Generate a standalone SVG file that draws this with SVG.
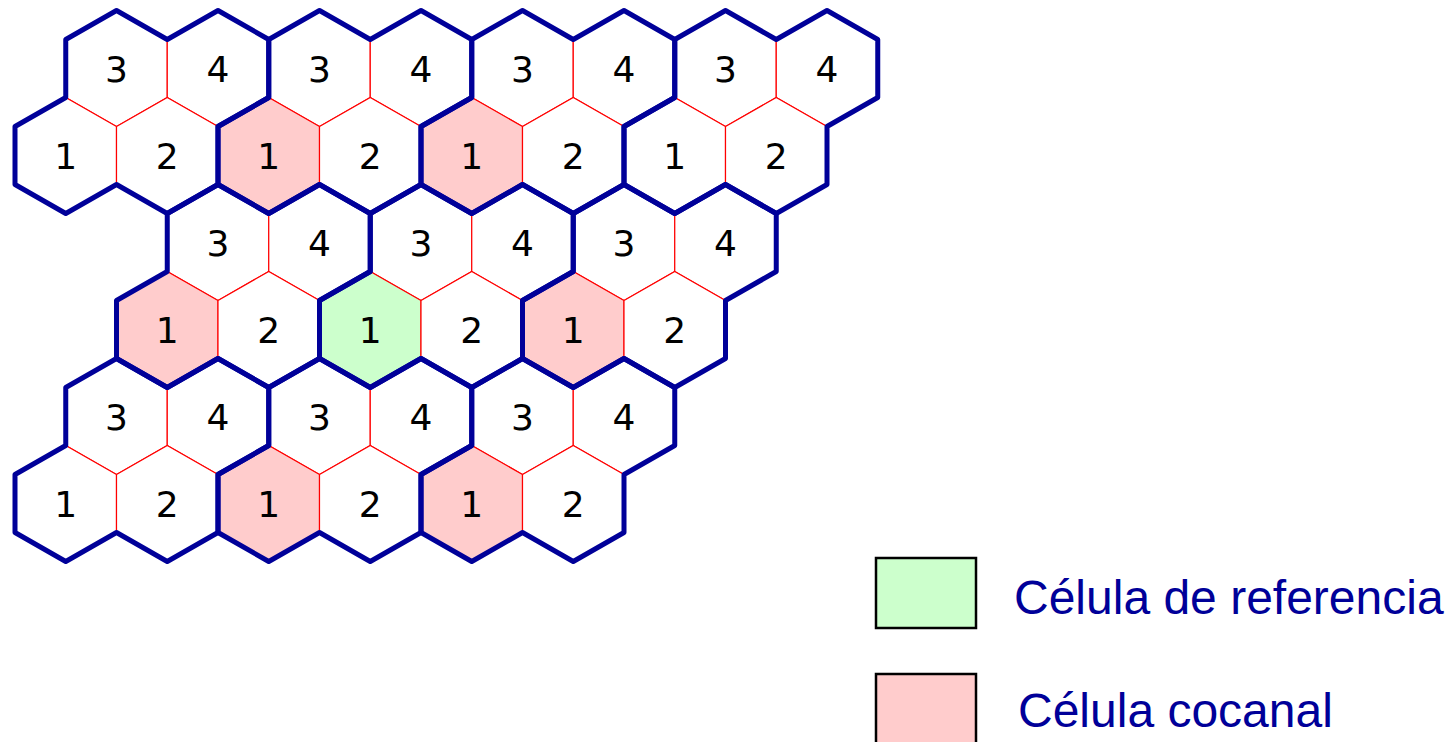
<svg xmlns="http://www.w3.org/2000/svg" xmlns:xlink="http://www.w3.org/1999/xlink" width="1452" height="742" viewBox="0 0 1452 742">
  <style>
    .cell { fill: #FFFFFF; stroke: #FF0000; stroke-width: 1.2; }
    .pink { fill: #FFCCCC; }
    .green { fill: #CCFFCC; }
    .num { font-family: "DejaVu Sans", "Noto Sans", sans-serif; font-size: 36px; fill: #000000; text-anchor: middle; }
    .cluster { fill: none; stroke: #000099; stroke-width: 5; stroke-linejoin: round; stroke-linecap: round; }
    .legbox { stroke: #000000; stroke-width: 2.5; }
    .legtext { font-family: "Liberation Sans", Arial, sans-serif; font-size: 48px; fill: #000099; }
  </style>
  <defs>
    <polygon id="hex" points="0,-58 50.75,-29 50.75,29 0,58 -50.75,29 -50.75,-29"/>
    <polygon id="clus" points="-50.75,-29 0,-58 50.75,-29 101.5,-58 152.25,-29 152.25,29 101.5,58 101.5,116 50.75,145 0,116 -50.75,145 -101.5,116 -101.5,58 -50.75,29"/>
  </defs>

  <!-- Row 1 -->
  <g id="r1c1" transform="translate(116.5,68.5)"><use xlink:href="#hex" class="cell"/><text class="num" y="13">3</text></g>
  <g id="r1c2" transform="translate(218,68.5)"><use xlink:href="#hex" class="cell"/><text class="num" y="13">4</text></g>
  <g id="r1c3" transform="translate(319.5,68.5)"><use xlink:href="#hex" class="cell"/><text class="num" y="13">3</text></g>
  <g id="r1c4" transform="translate(421,68.5)"><use xlink:href="#hex" class="cell"/><text class="num" y="13">4</text></g>
  <g id="r1c5" transform="translate(522.5,68.5)"><use xlink:href="#hex" class="cell"/><text class="num" y="13">3</text></g>
  <g id="r1c6" transform="translate(624,68.5)"><use xlink:href="#hex" class="cell"/><text class="num" y="13">4</text></g>
  <g id="r1c7" transform="translate(725.5,68.5)"><use xlink:href="#hex" class="cell"/><text class="num" y="13">3</text></g>
  <g id="r1c8" transform="translate(827,68.5)"><use xlink:href="#hex" class="cell"/><text class="num" y="13">4</text></g>

  <!-- Row 2 -->
  <g id="r2c1" transform="translate(65.75,155.5)"><use xlink:href="#hex" class="cell"/><text class="num" y="13">1</text></g>
  <g id="r2c2" transform="translate(167.25,155.5)"><use xlink:href="#hex" class="cell"/><text class="num" y="13">2</text></g>
  <g id="r2c3" transform="translate(268.75,155.5)"><use xlink:href="#hex" class="cell pink"/><text class="num" y="13">1</text></g>
  <g id="r2c4" transform="translate(370.25,155.5)"><use xlink:href="#hex" class="cell"/><text class="num" y="13">2</text></g>
  <g id="r2c5" transform="translate(471.75,155.5)"><use xlink:href="#hex" class="cell pink"/><text class="num" y="13">1</text></g>
  <g id="r2c6" transform="translate(573.25,155.5)"><use xlink:href="#hex" class="cell"/><text class="num" y="13">2</text></g>
  <g id="r2c7" transform="translate(674.75,155.5)"><use xlink:href="#hex" class="cell"/><text class="num" y="13">1</text></g>
  <g id="r2c8" transform="translate(776.25,155.5)"><use xlink:href="#hex" class="cell"/><text class="num" y="13">2</text></g>

  <!-- Row 3 -->
  <g id="r3c1" transform="translate(218,242.5)"><use xlink:href="#hex" class="cell"/><text class="num" y="13">3</text></g>
  <g id="r3c2" transform="translate(319.5,242.5)"><use xlink:href="#hex" class="cell"/><text class="num" y="13">4</text></g>
  <g id="r3c3" transform="translate(421,242.5)"><use xlink:href="#hex" class="cell"/><text class="num" y="13">3</text></g>
  <g id="r3c4" transform="translate(522.5,242.5)"><use xlink:href="#hex" class="cell"/><text class="num" y="13">4</text></g>
  <g id="r3c5" transform="translate(624,242.5)"><use xlink:href="#hex" class="cell"/><text class="num" y="13">3</text></g>
  <g id="r3c6" transform="translate(725.5,242.5)"><use xlink:href="#hex" class="cell"/><text class="num" y="13">4</text></g>

  <!-- Row 4 -->
  <g id="r4c1" transform="translate(167.25,329.5)"><use xlink:href="#hex" class="cell pink"/><text class="num" y="13">1</text></g>
  <g id="r4c2" transform="translate(268.75,329.5)"><use xlink:href="#hex" class="cell"/><text class="num" y="13">2</text></g>
  <g id="r4c3" transform="translate(370.25,329.5)"><use xlink:href="#hex" class="cell green"/><text class="num" y="13">1</text></g>
  <g id="r4c4" transform="translate(471.75,329.5)"><use xlink:href="#hex" class="cell"/><text class="num" y="13">2</text></g>
  <g id="r4c5" transform="translate(573.25,329.5)"><use xlink:href="#hex" class="cell pink"/><text class="num" y="13">1</text></g>
  <g id="r4c6" transform="translate(674.75,329.5)"><use xlink:href="#hex" class="cell"/><text class="num" y="13">2</text></g>

  <!-- Row 5 -->
  <g id="r5c1" transform="translate(116.5,416.5)"><use xlink:href="#hex" class="cell"/><text class="num" y="13">3</text></g>
  <g id="r5c2" transform="translate(218,416.5)"><use xlink:href="#hex" class="cell"/><text class="num" y="13">4</text></g>
  <g id="r5c3" transform="translate(319.5,416.5)"><use xlink:href="#hex" class="cell"/><text class="num" y="13">3</text></g>
  <g id="r5c4" transform="translate(421,416.5)"><use xlink:href="#hex" class="cell"/><text class="num" y="13">4</text></g>
  <g id="r5c5" transform="translate(522.5,416.5)"><use xlink:href="#hex" class="cell"/><text class="num" y="13">3</text></g>
  <g id="r5c6" transform="translate(624,416.5)"><use xlink:href="#hex" class="cell"/><text class="num" y="13">4</text></g>

  <!-- Row 6 -->
  <g id="r6c1" transform="translate(65.75,503.5)"><use xlink:href="#hex" class="cell"/><text class="num" y="13">1</text></g>
  <g id="r6c2" transform="translate(167.25,503.5)"><use xlink:href="#hex" class="cell"/><text class="num" y="13">2</text></g>
  <g id="r6c3" transform="translate(268.75,503.5)"><use xlink:href="#hex" class="cell pink"/><text class="num" y="13">1</text></g>
  <g id="r6c4" transform="translate(370.25,503.5)"><use xlink:href="#hex" class="cell"/><text class="num" y="13">2</text></g>
  <g id="r6c5" transform="translate(471.75,503.5)"><use xlink:href="#hex" class="cell pink"/><text class="num" y="13">1</text></g>
  <g id="r6c6" transform="translate(573.25,503.5)"><use xlink:href="#hex" class="cell"/><text class="num" y="13">2</text></g>

  <!-- Cluster outlines -->
  <g id="clusters">
    <use xlink:href="#clus" class="cluster" transform="translate(116.5,68.5)"/>
    <use xlink:href="#clus" class="cluster" transform="translate(319.5,68.5)"/>
    <use xlink:href="#clus" class="cluster" transform="translate(522.5,68.5)"/>
    <use xlink:href="#clus" class="cluster" transform="translate(725.5,68.5)"/>
    <use xlink:href="#clus" class="cluster" transform="translate(218,242.5)"/>
    <use xlink:href="#clus" class="cluster" transform="translate(421,242.5)"/>
    <use xlink:href="#clus" class="cluster" transform="translate(624,242.5)"/>
    <use xlink:href="#clus" class="cluster" transform="translate(116.5,416.5)"/>
    <use xlink:href="#clus" class="cluster" transform="translate(319.5,416.5)"/>
    <use xlink:href="#clus" class="cluster" transform="translate(522.5,416.5)"/>
  </g>

  <!-- Legend -->
  <g id="legend-ref">
    <rect class="legbox" x="876" y="558" width="100" height="70" fill="#CCFFCC"/>
    <text class="legtext" x="1014" y="614">Célula de referencia</text>
  </g>
  <g id="legend-cocanal">
    <rect class="legbox" x="876" y="674" width="100" height="80" fill="#FFCCCC"/>
    <text class="legtext" x="1018" y="727">Célula cocanal</text>
  </g>
</svg>
